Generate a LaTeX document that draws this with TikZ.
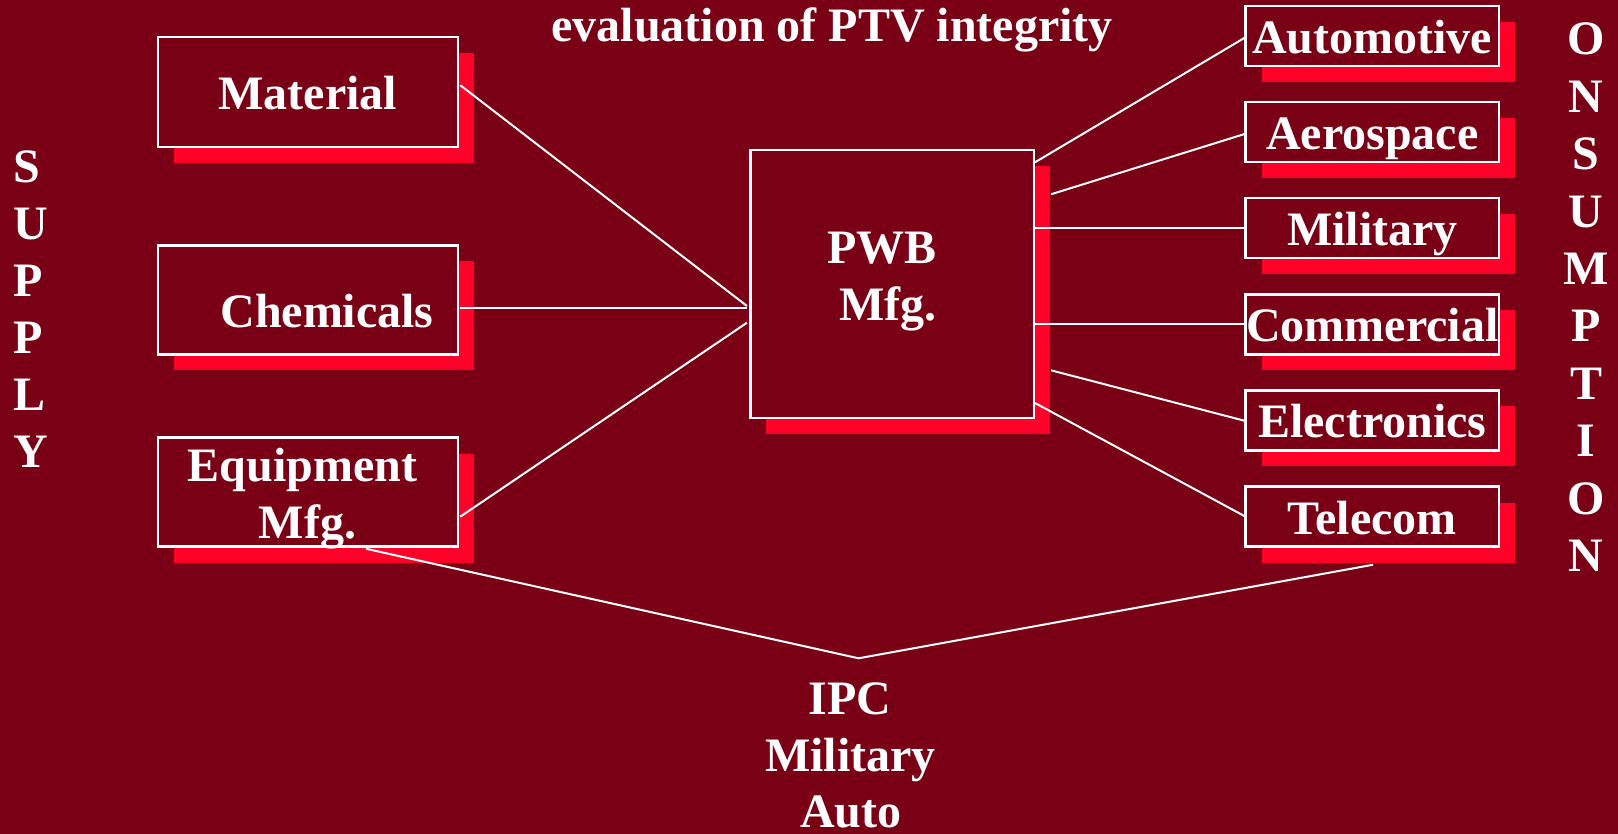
\documentclass[tikz,border=0pt]{standalone}
\usepackage{fontspec}
\setmainfont{Liberation Serif}
\usetikzlibrary{calc,shadows}
\definecolor{bg}{RGB}{122,0,22}
\definecolor{sred}{RGB}{255,0,41}
\begin{document}
\begin{tikzpicture}[x=0.5pt,y=-0.5pt,
  box/.style={draw=white, line width=1.25pt, fill=bg, inner sep=0pt,
    general shadow={fill=sred, shadow xshift=8pt, shadow yshift=-8pt}},
  rbox/.style={box, minimum width=126.75pt, minimum height=30pt},
  lbox/.style={box, minimum width=150pt},
  txt/.style={text=white, font=\fontsize{24pt}{28.7pt}\selectfont\bfseries, inner sep=0pt, anchor=base},
  conn/.style={draw=white, line width=1pt}]
\path[use as bounding box, fill=bg] (0,0) rectangle (1618,834);

% title
\node[txt] (title) at (832,41.7) {evaluation of PTV integrity};

% supply side boxes
\node[lbox, minimum height=55pt] (mat) at (308,92.2) {};
\node[lbox, minimum height=54.5pt] (chem) at (308,300) {};
\node[lbox, minimum height=54.5pt] (equip) at (308,492) {};
\node[txt] (tmat) at (307.7,110) {Material};
\node[txt] (tchem) at (327,327.3) {Chemicals};
\node[txt] (tequipA) at (302.5,481.7) {Equipment};
\node[txt] (tequipB) at (307.5,538.3) {Mfg.};

% centre
\node[box, minimum width=141.75pt, minimum height=133.75pt] (pwb) at (892,284) {};
\node[txt] (tpwbA) at (882,263.3) {PWB};
\node[txt] (tpwbB) at (888,320.7) {Mfg.};

% consumption side boxes
\node[rbox] (auto) at (1372.3,36) {};
\node[rbox] (aero) at (1372.3,132.1) {};
\node[rbox] (mil) at (1372.3,228.2) {};
\node[rbox] (comm) at (1372.3,324.3) {};
\node[rbox] (elec) at (1372.3,420.4) {};
\node[rbox] (tele) at (1372.3,516.5) {};
\node[txt] (tauto) at ($(auto.center)+(0,17.5)$) {Automotive};
\node[txt] (taero) at ($(aero.center)+(0,17.5)$) {Aerospace};
\node[txt] (tmil) at ($(mil.center)+(0,17.5)$) {Military};
\node[txt] (tcomm) at ($(comm.center)+(0,17.5)$) {Commercial};
\node[txt] (telec) at ($(elec.center)+(0,17.5)$) {Electronics};
\node[txt] (ttele) at ($(tele.center)+(0,17.5)$) {Telecom};

% vertical words
\foreach \l [count=\i from 0] in {S,U,P,P,L,Y}
  \node[txt, anchor=base west] (sup\i) at (13,183+56.9*\i) {\l};
\foreach \l [count=\i from 0] in {O,N,S,U,M,P,T,I,O,N}
  \node[txt] (con\i) at (1586,55+57.4*\i) {\l};

% bottom text
\node[txt] (ipc) at (850,714.7) {IPC};
\node[txt] (ipcmil) at (850.6,771.3) {Military};
\node[txt] (ipcauto) at (851,827.5) {Auto};

% connectors
\coordinate (apex) at (858.6,658.3);
\draw[conn] ($(mat.east)+(1,-7)$) -- ($(pwb.west)+(-2,22)$);
\draw[conn] ($(chem.east)+(1,8.3)$) -- ($(pwb.west)+(-2,24.3)$);
\draw[conn] ($(equip.east)+(1,24.7)$) -- ($(pwb.west)+(-2,38.7)$);
\draw[conn] ($(equip.south)+(58,1)$) -- (apex) -- ($(tele.south)+(0.7,17)$);
\draw[conn] ($(pwb.north east)+(0,13.3)$) -- ($(auto.west)+(0,2)$);
\draw[conn] ($(pwb.north east)+(16,45.3)$) -- ($(aero.west)+(0,2)$);
\draw[conn] (pwb.east |- mil.west) -- (mil.west);
\draw[conn] (pwb.east |- comm.west) -- (comm.west);
\draw[conn] ($(pwb.north east)+(16,221.3)$) -- ($(elec.west)+(0,0.3)$);
\draw[conn] ($(pwb.north east)+(0,254)$) -- ($(tele.west)+(0,-0.5)$);
\end{tikzpicture}
\end{document}
